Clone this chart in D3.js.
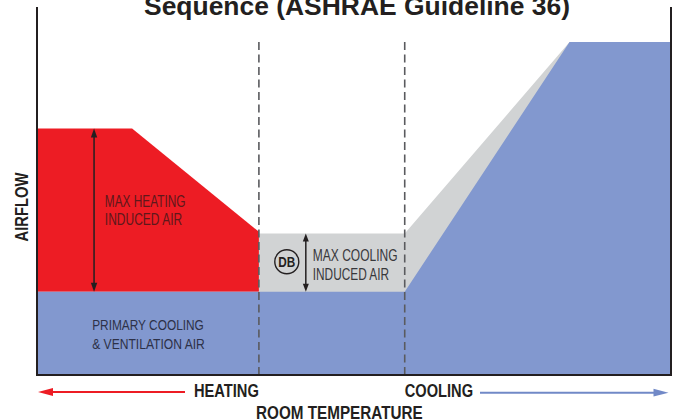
<!DOCTYPE html>
<html>
<head>
<meta charset="utf-8">
<script src="https://cdn.jsdelivr.net/npm/d3@7"></script>
<style>
  html, body { margin: 0; padding: 0; background: #fff; }
  svg { display: block; font-family: "Liberation Sans", Arial, Helvetica, sans-serif; }
</style>
</head>
<body>
<svg id="chart" width="676" height="420"></svg>
<script>
// Room temperature breakpoints (relative units, 0 = coldest, 100 = warmest)
const zoneTemps     = [0, 15, 35, 58, 84, 100];
// Airflow (% of maximum) at each breakpoint
const primaryAir    = [25, 25, 25, 25, 100, 100];
const heatingTotal  = [74, 74, 43, null, null, null];
const coolingTotal  = [null, null, 42.5, 42.5, 100, 100];
// Deadband boundaries
const deadband      = [35, 58];

const W = 676, H = 420;
const x = d3.scaleLinear().domain([0, 100]).range([37, 671]);
const y = d3.scaleLinear().domain([0, 100]).range([375, 42]);

const svg = d3.select("#chart");
const C = {
  red: "#ed1c24", blue: "#8298cf", gray: "#d1d3d4",
  ink: "#231f20", dash: "#5a5b5e",
  heatText: "#5e181b", coolText: "#38383b", primText: "#2d3148"
};

const rows = zoneTemps.map((t, i) => ({
  t, p: primaryAir[i], h: heatingTotal[i], c: coolingTotal[i]
}));

// Cooling induced air (grey), drawn first so primary air sits on top
svg.append("path")
  .datum(rows.filter(d => d.c != null))
  .attr("fill", C.gray)
  .attr("d", d3.area().x(d => x(d.t)).y0(y(0)).y1(d => y(d.c)));

// Heating induced air (red), stacked over primary air
svg.append("path")
  .datum(rows.filter(d => d.h != null))
  .attr("fill", C.red)
  .attr("d", d3.area().x(d => x(d.t)).y0(d => y(d.p)).y1(d => y(d.h)));

// Primary cooling & ventilation air (blue)
svg.append("path")
  .datum(rows)
  .attr("fill", C.blue)
  .attr("d", d3.area().x(d => x(d.t)).y0(y(0)).y1(d => y(d.p)));

// Deadband dividers
svg.selectAll("line.db").data(deadband).join("line")
  .attr("class", "db")
  .attr("x1", d => x(d)).attr("x2", d => x(d))
  .attr("y1", y(100)).attr("y2", y(0))
  .attr("stroke", C.dash).attr("stroke-width", 1.6)
  .attr("stroke-dasharray", "8,4.5");

// Frame: left, right and bottom
const frameTop = 7;
svg.append("path")
  .attr("d", `M${x(0)},${frameTop}V${y(0)}H${x(100)}V${frameTop}`)
  .attr("fill", "none").attr("stroke", C.ink).attr("stroke-width", 2);

// Helper: straight arrow with filled heads
function arrow(x1, y1, x2, y2, color, width, headLen, headHalf, both) {
  const g = svg.append("g");
  const ang = Math.atan2(y2 - y1, x2 - x1);
  const head = (px, py, a) => {
    const bx = px - headLen * Math.cos(a), by = py - headLen * Math.sin(a);
    const nx = -Math.sin(a) * headHalf, ny = Math.cos(a) * headHalf;
    g.append("path")
      .attr("d", `M${px},${py}L${bx + nx},${by + ny}L${bx - nx},${by - ny}Z`)
      .attr("fill", color);
  };
  const sx = both ? x1 + (headLen - 1) * Math.cos(ang) : x1;
  const sy = both ? y1 + (headLen - 1) * Math.sin(ang) : y1;
  g.append("line")
    .attr("x1", sx).attr("y1", sy)
    .attr("x2", x2 - (headLen - 1) * Math.cos(ang))
    .attr("y2", y2 - (headLen - 1) * Math.sin(ang))
    .attr("stroke", color).attr("stroke-width", width);
  head(x2, y2, ang);
  if (both) head(x1, y1, ang + Math.PI);
}

// Condensed-looking label helper
function label(tx, ty, str, opts) {
  const t = svg.append("text")
    .attr("x", tx).attr("y", ty)
    .attr("font-size", opts.size)
    .attr("font-weight", opts.bold ? "bold" : "normal")
    .attr("fill", opts.color)
    .attr("text-anchor", opts.anchor || "start")
    .text(str);
  if (opts.len) t.attr("textLength", opts.len).attr("lengthAdjust", "spacingAndGlyphs");
  if (opts.transform) t.attr("transform", opts.transform);
  return t;
}

// Heating induced air span
arrow(x(9), y(74), x(9), y(25), C.ink, 1.5, 9, 3.2, true);
label(x(10.7), 207, "MAX HEATING", { size: 16.5, color: C.heatText, len: 80.7 });
label(x(10.7), 225, "INDUCED AIR", { size: 16.5, color: C.heatText, len: 77.3 });

// Cooling induced air span
arrow(x(42.4), y(42.5), x(42.4), y(25), C.ink, 1.5, 8, 3, true);
label(x(43.5), 260.7, "MAX COOLING", { size: 16, color: C.coolText, len: 84.7 });
label(x(43.5), 280, "INDUCED AIR", { size: 16, color: C.coolText, len: 76.3 });

// Deadband marker
svg.append("circle")
  .attr("cx", x(39.4)).attr("cy", y(34))
  .attr("r", 12).attr("fill", "none")
  .attr("stroke", C.ink).attr("stroke-width", 1.4);
label(x(39.4), y(34) + 5, "DB", { size: 14, bold: true, color: C.ink, anchor: "middle", len: 17 });

// Primary air label
label(x(8.7), 330, "PRIMARY COOLING", { size: 15, color: C.primText, len: 111.7 });
label(x(8.7), 349, "& VENTILATION AIR", { size: 15, color: C.primText, len: 112.7 });

// Title
label(144, 15, "Sequence (ASHRAE Guideline 36)", { size: 25, bold: true, color: C.ink, len: 426 });

// Axis titles
label(0, 0, "AIRFLOW", { size: 18.5, bold: true, color: C.ink, anchor: "middle", len: 69,
  transform: "translate(28.3,207) rotate(-90)" });
label(256, 419, "ROOM TEMPERATURE", { size: 18.5, bold: true, color: C.ink, len: 166.7 });

// Direction labels aligned with deadband edges
label(x(deadband[0]), 397.3, "HEATING", { size: 18.5, bold: true, color: C.ink, anchor: "end", len: 65 });
label(x(deadband[1]), 396.7, "COOLING", { size: 18.5, bold: true, color: C.ink, len: 68.3 });
arrow(185, 392, 38, 392, C.red, 2, 15, 3.9, false);
arrow(480, 392.7, 668.5, 392.7, "#7189c7", 2, 15, 3.9, false);
</script>
</body>
</html>
